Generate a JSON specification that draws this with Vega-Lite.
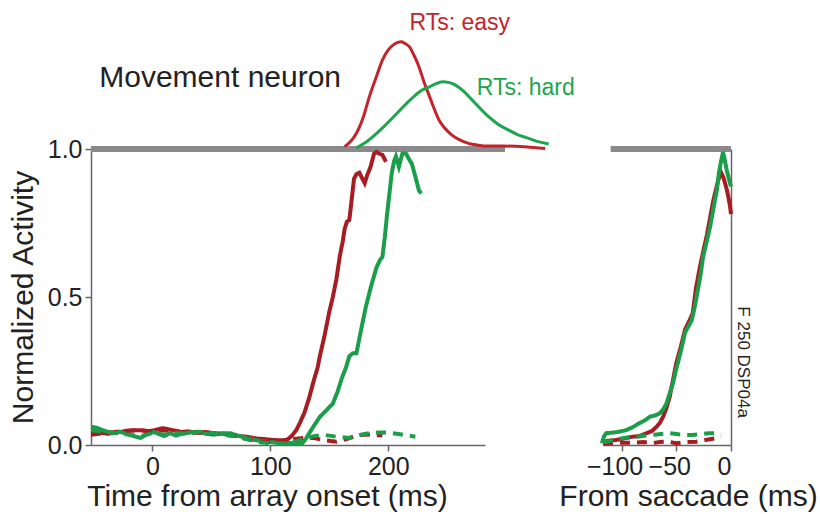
{
  "$schema": "https://vega.github.io/schema/vega-lite/v6.json",
  "background": "white",
  "padding": {"left": 8, "top": 12, "right": 5, "bottom": 5},
  "bounds": "flush",
  "spacing": 118,
  "config": {
    "view": {"stroke": null},
    "font": "Liberation Sans",
    "axis": {
      "grid": false,
      "domainColor": "#666666",
      "domainWidth": 1.5,
      "tickColor": "#666666",
      "tickWidth": 1.5,
      "tickSize": 6,
      "labelFont": "Liberation Sans",
      "labelFontSize": 25,
      "labelColor": "#222222",
      "labelPadding": 3,
      "titleFont": "Liberation Sans",
      "titleFontSize": 30,
      "titleFontWeight": "normal",
      "titleColor": "#222222"
    }
  },
  "datasets": {
    "arrayAligned": [
      {"t": -52, "act": 0.04, "cond": "easy", "type": "target"},
      {"t": -45, "act": 0.042, "cond": "easy", "type": "target"},
      {"t": -38, "act": 0.038, "cond": "easy", "type": "target"},
      {"t": -30, "act": 0.042, "cond": "easy", "type": "target"},
      {"t": -22, "act": 0.048, "cond": "easy", "type": "target"},
      {"t": -15, "act": 0.05, "cond": "easy", "type": "target"},
      {"t": -10, "act": 0.05, "cond": "easy", "type": "target"},
      {"t": -4, "act": 0.046, "cond": "easy", "type": "target"},
      {"t": 2, "act": 0.05, "cond": "easy", "type": "target"},
      {"t": 9, "act": 0.057, "cond": "easy", "type": "target"},
      {"t": 15, "act": 0.052, "cond": "easy", "type": "target"},
      {"t": 20, "act": 0.048, "cond": "easy", "type": "target"},
      {"t": 24, "act": 0.044, "cond": "easy", "type": "target"},
      {"t": 30, "act": 0.046, "cond": "easy", "type": "target"},
      {"t": 38, "act": 0.042, "cond": "easy", "type": "target"},
      {"t": 45, "act": 0.044, "cond": "easy", "type": "target"},
      {"t": 52, "act": 0.04, "cond": "easy", "type": "target"},
      {"t": 60, "act": 0.038, "cond": "easy", "type": "target"},
      {"t": 68, "act": 0.033, "cond": "easy", "type": "target"},
      {"t": 75, "act": 0.03, "cond": "easy", "type": "target"},
      {"t": 80, "act": 0.028, "cond": "easy", "type": "target"},
      {"t": 88, "act": 0.022, "cond": "easy", "type": "target"},
      {"t": 95, "act": 0.02, "cond": "easy", "type": "target"},
      {"t": 102, "act": 0.017, "cond": "easy", "type": "target"},
      {"t": 108, "act": 0.016, "cond": "easy", "type": "target"},
      {"t": 114, "act": 0.017, "cond": "easy", "type": "target"},
      {"t": 118, "act": 0.03, "cond": "easy", "type": "target"},
      {"t": 122, "act": 0.05, "cond": "easy", "type": "target"},
      {"t": 125, "act": 0.074, "cond": "easy", "type": "target"},
      {"t": 129, "act": 0.11, "cond": "easy", "type": "target"},
      {"t": 133, "act": 0.16, "cond": "easy", "type": "target"},
      {"t": 137, "act": 0.22, "cond": "easy", "type": "target"},
      {"t": 140, "act": 0.26, "cond": "easy", "type": "target"},
      {"t": 142, "act": 0.3, "cond": "easy", "type": "target"},
      {"t": 146, "act": 0.37, "cond": "easy", "type": "target"},
      {"t": 150, "act": 0.45, "cond": "easy", "type": "target"},
      {"t": 153, "act": 0.5, "cond": "easy", "type": "target"},
      {"t": 156, "act": 0.56, "cond": "easy", "type": "target"},
      {"t": 159, "act": 0.64, "cond": "easy", "type": "target"},
      {"t": 161.5, "act": 0.69, "cond": "easy", "type": "target"},
      {"t": 163, "act": 0.73, "cond": "easy", "type": "target"},
      {"t": 165, "act": 0.755, "cond": "easy", "type": "target"},
      {"t": 167, "act": 0.76, "cond": "easy", "type": "target"},
      {"t": 169, "act": 0.83, "cond": "easy", "type": "target"},
      {"t": 171, "act": 0.9, "cond": "easy", "type": "target"},
      {"t": 173, "act": 0.915, "cond": "easy", "type": "target"},
      {"t": 175.5, "act": 0.92, "cond": "easy", "type": "target"},
      {"t": 178, "act": 0.9, "cond": "easy", "type": "target"},
      {"t": 180, "act": 0.885, "cond": "easy", "type": "target"},
      {"t": 182, "act": 0.91, "cond": "easy", "type": "target"},
      {"t": 185, "act": 0.94, "cond": "easy", "type": "target"},
      {"t": 188, "act": 0.985, "cond": "easy", "type": "target"},
      {"t": 190, "act": 0.99, "cond": "easy", "type": "target"},
      {"t": 192, "act": 0.985, "cond": "easy", "type": "target"},
      {"t": 195, "act": 0.98, "cond": "easy", "type": "target"},
      {"t": 198, "act": 0.957, "cond": "easy", "type": "target"},

      {"t": -52, "act": 0.062, "cond": "hard", "type": "target"},
      {"t": -47, "act": 0.058, "cond": "hard", "type": "target"},
      {"t": -42, "act": 0.05, "cond": "hard", "type": "target"},
      {"t": -38, "act": 0.045, "cond": "hard", "type": "target"},
      {"t": -33, "act": 0.04, "cond": "hard", "type": "target"},
      {"t": -28, "act": 0.045, "cond": "hard", "type": "target"},
      {"t": -22, "act": 0.038, "cond": "hard", "type": "target"},
      {"t": -16, "act": 0.03, "cond": "hard", "type": "target"},
      {"t": -10, "act": 0.024, "cond": "hard", "type": "target"},
      {"t": -5, "act": 0.035, "cond": "hard", "type": "target"},
      {"t": 1, "act": 0.044, "cond": "hard", "type": "target"},
      {"t": 5, "act": 0.038, "cond": "hard", "type": "target"},
      {"t": 10, "act": 0.03, "cond": "hard", "type": "target"},
      {"t": 15, "act": 0.04, "cond": "hard", "type": "target"},
      {"t": 20, "act": 0.032, "cond": "hard", "type": "target"},
      {"t": 25, "act": 0.038, "cond": "hard", "type": "target"},
      {"t": 32, "act": 0.042, "cond": "hard", "type": "target"},
      {"t": 38, "act": 0.045, "cond": "hard", "type": "target"},
      {"t": 45, "act": 0.038, "cond": "hard", "type": "target"},
      {"t": 52, "act": 0.035, "cond": "hard", "type": "target"},
      {"t": 60, "act": 0.04, "cond": "hard", "type": "target"},
      {"t": 66, "act": 0.04, "cond": "hard", "type": "target"},
      {"t": 72, "act": 0.032, "cond": "hard", "type": "target"},
      {"t": 80, "act": 0.024, "cond": "hard", "type": "target"},
      {"t": 88, "act": 0.016, "cond": "hard", "type": "target"},
      {"t": 97, "act": 0.011, "cond": "hard", "type": "target"},
      {"t": 105, "act": 0.008, "cond": "hard", "type": "target"},
      {"t": 114, "act": 0.007, "cond": "hard", "type": "target"},
      {"t": 120, "act": 0.006, "cond": "hard", "type": "target"},
      {"t": 127, "act": 0.005, "cond": "hard", "type": "target"},
      {"t": 130, "act": 0.02, "cond": "hard", "type": "target"},
      {"t": 133, "act": 0.04, "cond": "hard", "type": "target"},
      {"t": 137, "act": 0.065, "cond": "hard", "type": "target"},
      {"t": 142, "act": 0.095, "cond": "hard", "type": "target"},
      {"t": 147, "act": 0.115, "cond": "hard", "type": "target"},
      {"t": 153, "act": 0.14, "cond": "hard", "type": "target"},
      {"t": 157, "act": 0.18, "cond": "hard", "type": "target"},
      {"t": 161, "act": 0.23, "cond": "hard", "type": "target"},
      {"t": 164, "act": 0.26, "cond": "hard", "type": "target"},
      {"t": 167, "act": 0.3, "cond": "hard", "type": "target"},
      {"t": 170, "act": 0.31, "cond": "hard", "type": "target"},
      {"t": 173, "act": 0.31, "cond": "hard", "type": "target"},
      {"t": 177, "act": 0.39, "cond": "hard", "type": "target"},
      {"t": 181, "act": 0.467, "cond": "hard", "type": "target"},
      {"t": 185, "act": 0.53, "cond": "hard", "type": "target"},
      {"t": 190, "act": 0.6, "cond": "hard", "type": "target"},
      {"t": 193, "act": 0.625, "cond": "hard", "type": "target"},
      {"t": 195, "act": 0.635, "cond": "hard", "type": "target"},
      {"t": 197, "act": 0.7, "cond": "hard", "type": "target"},
      {"t": 199, "act": 0.78, "cond": "hard", "type": "target"},
      {"t": 201, "act": 0.85, "cond": "hard", "type": "target"},
      {"t": 203, "act": 0.92, "cond": "hard", "type": "target"},
      {"t": 205, "act": 0.96, "cond": "hard", "type": "target"},
      {"t": 206.5, "act": 0.975, "cond": "hard", "type": "target"},
      {"t": 209, "act": 0.94, "cond": "hard", "type": "target"},
      {"t": 212, "act": 0.985, "cond": "hard", "type": "target"},
      {"t": 215, "act": 0.985, "cond": "hard", "type": "target"},
      {"t": 218, "act": 0.963, "cond": "hard", "type": "target"},
      {"t": 220, "act": 0.95, "cond": "hard", "type": "target"},
      {"t": 223, "act": 0.906, "cond": "hard", "type": "target"},
      {"t": 226, "act": 0.86, "cond": "hard", "type": "target"},
      {"t": 228, "act": 0.85, "cond": "hard", "type": "target"},

      {"t": -52, "act": 0.035, "cond": "easy", "type": "distractor"},
      {"t": -40, "act": 0.04, "cond": "easy", "type": "distractor"},
      {"t": -30, "act": 0.045, "cond": "easy", "type": "distractor"},
      {"t": -20, "act": 0.048, "cond": "easy", "type": "distractor"},
      {"t": -10, "act": 0.05, "cond": "easy", "type": "distractor"},
      {"t": 0, "act": 0.045, "cond": "easy", "type": "distractor"},
      {"t": 10, "act": 0.05, "cond": "easy", "type": "distractor"},
      {"t": 20, "act": 0.046, "cond": "easy", "type": "distractor"},
      {"t": 30, "act": 0.04, "cond": "easy", "type": "distractor"},
      {"t": 40, "act": 0.042, "cond": "easy", "type": "distractor"},
      {"t": 50, "act": 0.038, "cond": "easy", "type": "distractor"},
      {"t": 60, "act": 0.035, "cond": "easy", "type": "distractor"},
      {"t": 70, "act": 0.03, "cond": "easy", "type": "distractor"},
      {"t": 80, "act": 0.02, "cond": "easy", "type": "distractor"},
      {"t": 90, "act": 0.012, "cond": "easy", "type": "distractor"},
      {"t": 100, "act": 0.01, "cond": "easy", "type": "distractor"},
      {"t": 110, "act": 0.012, "cond": "easy", "type": "distractor"},
      {"t": 120, "act": 0.02, "cond": "easy", "type": "distractor"},
      {"t": 128, "act": 0.024, "cond": "easy", "type": "distractor"},
      {"t": 136, "act": 0.024, "cond": "easy", "type": "distractor"},
      {"t": 146, "act": 0.016, "cond": "easy", "type": "distractor"},
      {"t": 156, "act": 0.011, "cond": "easy", "type": "distractor"},
      {"t": 166, "act": 0.022, "cond": "easy", "type": "distractor"},
      {"t": 176, "act": 0.034, "cond": "easy", "type": "distractor"},
      {"t": 186, "act": 0.036, "cond": "easy", "type": "distractor"},
      {"t": 195, "act": 0.032, "cond": "easy", "type": "distractor"},

      {"t": -52, "act": 0.05, "cond": "hard", "type": "distractor"},
      {"t": -40, "act": 0.045, "cond": "hard", "type": "distractor"},
      {"t": -30, "act": 0.04, "cond": "hard", "type": "distractor"},
      {"t": -20, "act": 0.035, "cond": "hard", "type": "distractor"},
      {"t": -10, "act": 0.03, "cond": "hard", "type": "distractor"},
      {"t": 0, "act": 0.04, "cond": "hard", "type": "distractor"},
      {"t": 10, "act": 0.035, "cond": "hard", "type": "distractor"},
      {"t": 20, "act": 0.04, "cond": "hard", "type": "distractor"},
      {"t": 30, "act": 0.038, "cond": "hard", "type": "distractor"},
      {"t": 40, "act": 0.045, "cond": "hard", "type": "distractor"},
      {"t": 50, "act": 0.04, "cond": "hard", "type": "distractor"},
      {"t": 60, "act": 0.035, "cond": "hard", "type": "distractor"},
      {"t": 70, "act": 0.03, "cond": "hard", "type": "distractor"},
      {"t": 80, "act": 0.02, "cond": "hard", "type": "distractor"},
      {"t": 90, "act": 0.01, "cond": "hard", "type": "distractor"},
      {"t": 100, "act": 0.005, "cond": "hard", "type": "distractor"},
      {"t": 110, "act": 0.005, "cond": "hard", "type": "distractor"},
      {"t": 120, "act": 0.01, "cond": "hard", "type": "distractor"},
      {"t": 128, "act": 0.02, "cond": "hard", "type": "distractor"},
      {"t": 137, "act": 0.03, "cond": "hard", "type": "distractor"},
      {"t": 146, "act": 0.034, "cond": "hard", "type": "distractor"},
      {"t": 156, "act": 0.028, "cond": "hard", "type": "distractor"},
      {"t": 167, "act": 0.024, "cond": "hard", "type": "distractor"},
      {"t": 176, "act": 0.034, "cond": "hard", "type": "distractor"},
      {"t": 184, "act": 0.04, "cond": "hard", "type": "distractor"},
      {"t": 192, "act": 0.042, "cond": "hard", "type": "distractor"},
      {"t": 201, "act": 0.042, "cond": "hard", "type": "distractor"},
      {"t": 210, "act": 0.036, "cond": "hard", "type": "distractor"},
      {"t": 223, "act": 0.028, "cond": "hard", "type": "distractor"}
    ],
    "rtDist": [
      {"t": 163, "act": 1.008, "cond": "easy"},
      {"t": 168, "act": 1.025, "cond": "easy"},
      {"t": 173, "act": 1.053, "cond": "easy"},
      {"t": 179, "act": 1.11, "cond": "easy"},
      {"t": 184, "act": 1.177, "cond": "easy"},
      {"t": 190, "act": 1.245, "cond": "easy"},
      {"t": 195, "act": 1.3, "cond": "easy"},
      {"t": 200, "act": 1.335, "cond": "easy"},
      {"t": 204, "act": 1.351, "cond": "easy"},
      {"t": 208, "act": 1.36, "cond": "easy"},
      {"t": 211, "act": 1.362, "cond": "easy"},
      {"t": 214, "act": 1.357, "cond": "easy"},
      {"t": 218, "act": 1.345, "cond": "easy"},
      {"t": 222, "act": 1.315, "cond": "easy"},
      {"t": 226, "act": 1.278, "cond": "easy"},
      {"t": 230, "act": 1.23, "cond": "easy"},
      {"t": 235, "act": 1.177, "cond": "easy"},
      {"t": 239, "act": 1.135, "cond": "easy"},
      {"t": 243, "act": 1.098, "cond": "easy"},
      {"t": 248, "act": 1.07, "cond": "easy"},
      {"t": 254, "act": 1.047, "cond": "easy"},
      {"t": 261, "act": 1.03, "cond": "easy"},
      {"t": 268, "act": 1.019, "cond": "easy"},
      {"t": 276, "act": 1.013, "cond": "easy"},
      {"t": 285, "act": 1.01, "cond": "easy"},
      {"t": 297, "act": 1.01, "cond": "easy"},
      {"t": 308, "act": 1.009, "cond": "easy"},
      {"t": 320, "act": 1.006, "cond": "easy"},
      {"t": 333, "act": 1.002, "cond": "easy"},

      {"t": 173, "act": 1.004, "cond": "hard"},
      {"t": 180, "act": 1.02, "cond": "hard"},
      {"t": 187, "act": 1.042, "cond": "hard"},
      {"t": 196, "act": 1.075, "cond": "hard"},
      {"t": 206, "act": 1.115, "cond": "hard"},
      {"t": 215, "act": 1.152, "cond": "hard"},
      {"t": 223, "act": 1.182, "cond": "hard"},
      {"t": 229, "act": 1.2, "cond": "hard"},
      {"t": 235, "act": 1.21, "cond": "hard"},
      {"t": 240, "act": 1.22, "cond": "hard"},
      {"t": 246, "act": 1.227, "cond": "hard"},
      {"t": 251, "act": 1.225, "cond": "hard"},
      {"t": 257, "act": 1.216, "cond": "hard"},
      {"t": 264, "act": 1.195, "cond": "hard"},
      {"t": 271, "act": 1.166, "cond": "hard"},
      {"t": 278, "act": 1.137, "cond": "hard"},
      {"t": 285, "act": 1.109, "cond": "hard"},
      {"t": 293, "act": 1.084, "cond": "hard"},
      {"t": 302, "act": 1.064, "cond": "hard"},
      {"t": 310, "act": 1.048, "cond": "hard"},
      {"t": 319, "act": 1.036, "cond": "hard"},
      {"t": 327, "act": 1.025, "cond": "hard"},
      {"t": 336, "act": 1.017, "cond": "hard"}
    ],
    "saccadeAligned": [
      {"t": -117, "act": 0.011, "cond": "easy", "type": "target"},
      {"t": -112, "act": 0.014, "cond": "easy", "type": "target"},
      {"t": -105, "act": 0.017, "cond": "easy", "type": "target"},
      {"t": -98, "act": 0.022, "cond": "easy", "type": "target"},
      {"t": -90, "act": 0.028, "cond": "easy", "type": "target"},
      {"t": -84, "act": 0.03, "cond": "easy", "type": "target"},
      {"t": -77, "act": 0.04, "cond": "easy", "type": "target"},
      {"t": -72, "act": 0.048, "cond": "easy", "type": "target"},
      {"t": -68, "act": 0.062, "cond": "easy", "type": "target"},
      {"t": -65, "act": 0.075, "cond": "easy", "type": "target"},
      {"t": -62, "act": 0.096, "cond": "easy", "type": "target"},
      {"t": -59, "act": 0.125, "cond": "easy", "type": "target"},
      {"t": -56, "act": 0.163, "cond": "easy", "type": "target"},
      {"t": -53, "act": 0.22, "cond": "easy", "type": "target"},
      {"t": -50, "act": 0.277, "cond": "easy", "type": "target"},
      {"t": -46, "act": 0.33, "cond": "easy", "type": "target"},
      {"t": -42, "act": 0.39, "cond": "easy", "type": "target"},
      {"t": -38, "act": 0.42, "cond": "easy", "type": "target"},
      {"t": -35, "act": 0.445, "cond": "easy", "type": "target"},
      {"t": -32, "act": 0.53, "cond": "easy", "type": "target"},
      {"t": -28.5, "act": 0.6, "cond": "easy", "type": "target"},
      {"t": -25, "act": 0.66, "cond": "easy", "type": "target"},
      {"t": -22, "act": 0.71, "cond": "easy", "type": "target"},
      {"t": -19, "act": 0.77, "cond": "easy", "type": "target"},
      {"t": -16.5, "act": 0.82, "cond": "easy", "type": "target"},
      {"t": -14, "act": 0.86, "cond": "easy", "type": "target"},
      {"t": -11.6, "act": 0.895, "cond": "easy", "type": "target"},
      {"t": -9, "act": 0.92, "cond": "easy", "type": "target"},
      {"t": -7, "act": 0.905, "cond": "easy", "type": "target"},
      {"t": -5.5, "act": 0.885, "cond": "easy", "type": "target"},
      {"t": -4, "act": 0.865, "cond": "easy", "type": "target"},
      {"t": -2.5, "act": 0.84, "cond": "easy", "type": "target"},
      {"t": -1, "act": 0.81, "cond": "easy", "type": "target"},
      {"t": 0, "act": 0.78, "cond": "easy", "type": "target"},

      {"t": -118, "act": 0.006, "cond": "hard", "type": "target"},
      {"t": -116, "act": 0.03, "cond": "hard", "type": "target"},
      {"t": -114, "act": 0.04, "cond": "hard", "type": "target"},
      {"t": -108, "act": 0.042, "cond": "hard", "type": "target"},
      {"t": -102, "act": 0.045, "cond": "hard", "type": "target"},
      {"t": -96, "act": 0.05, "cond": "hard", "type": "target"},
      {"t": -90, "act": 0.06, "cond": "hard", "type": "target"},
      {"t": -83.5, "act": 0.074, "cond": "hard", "type": "target"},
      {"t": -78, "act": 0.085, "cond": "hard", "type": "target"},
      {"t": -74, "act": 0.096, "cond": "hard", "type": "target"},
      {"t": -69, "act": 0.1, "cond": "hard", "type": "target"},
      {"t": -65, "act": 0.108, "cond": "hard", "type": "target"},
      {"t": -62, "act": 0.12, "cond": "hard", "type": "target"},
      {"t": -59, "act": 0.14, "cond": "hard", "type": "target"},
      {"t": -56, "act": 0.175, "cond": "hard", "type": "target"},
      {"t": -53, "act": 0.21, "cond": "hard", "type": "target"},
      {"t": -50.5, "act": 0.25, "cond": "hard", "type": "target"},
      {"t": -48.6, "act": 0.277, "cond": "hard", "type": "target"},
      {"t": -45, "act": 0.33, "cond": "hard", "type": "target"},
      {"t": -42, "act": 0.38, "cond": "hard", "type": "target"},
      {"t": -39, "act": 0.4, "cond": "hard", "type": "target"},
      {"t": -36, "act": 0.42, "cond": "hard", "type": "target"},
      {"t": -33.5, "act": 0.46, "cond": "hard", "type": "target"},
      {"t": -31.5, "act": 0.5, "cond": "hard", "type": "target"},
      {"t": -28, "act": 0.57, "cond": "hard", "type": "target"},
      {"t": -25.5, "act": 0.636, "cond": "hard", "type": "target"},
      {"t": -22, "act": 0.69, "cond": "hard", "type": "target"},
      {"t": -19, "act": 0.74, "cond": "hard", "type": "target"},
      {"t": -16, "act": 0.8, "cond": "hard", "type": "target"},
      {"t": -13, "act": 0.86, "cond": "hard", "type": "target"},
      {"t": -11, "act": 0.92, "cond": "hard", "type": "target"},
      {"t": -9, "act": 0.96, "cond": "hard", "type": "target"},
      {"t": -7.3, "act": 0.99, "cond": "hard", "type": "target"},
      {"t": -5.5, "act": 0.96, "cond": "hard", "type": "target"},
      {"t": -4, "act": 0.93, "cond": "hard", "type": "target"},
      {"t": -2, "act": 0.9, "cond": "hard", "type": "target"},
      {"t": 0, "act": 0.873, "cond": "hard", "type": "target"},

      {"t": -117, "act": 0.004, "cond": "easy", "type": "distractor"},
      {"t": -110, "act": 0.006, "cond": "easy", "type": "distractor"},
      {"t": -100, "act": 0.008, "cond": "easy", "type": "distractor"},
      {"t": -90, "act": 0.008, "cond": "easy", "type": "distractor"},
      {"t": -80, "act": 0.01, "cond": "easy", "type": "distractor"},
      {"t": -73, "act": 0.006, "cond": "easy", "type": "distractor"},
      {"t": -65, "act": 0.01, "cond": "easy", "type": "distractor"},
      {"t": -58, "act": 0.012, "cond": "easy", "type": "distractor"},
      {"t": -50, "act": 0.006, "cond": "easy", "type": "distractor"},
      {"t": -42, "act": 0.01, "cond": "easy", "type": "distractor"},
      {"t": -32, "act": 0.011, "cond": "easy", "type": "distractor"},
      {"t": -22, "act": 0.018, "cond": "easy", "type": "distractor"},
      {"t": -15, "act": 0.022, "cond": "easy", "type": "distractor"},
      {"t": -9, "act": 0.028, "cond": "easy", "type": "distractor"},

      {"t": -117, "act": 0.01, "cond": "hard", "type": "distractor"},
      {"t": -112, "act": 0.012, "cond": "hard", "type": "distractor"},
      {"t": -105, "act": 0.02, "cond": "hard", "type": "distractor"},
      {"t": -95, "act": 0.025, "cond": "hard", "type": "distractor"},
      {"t": -86, "act": 0.028, "cond": "hard", "type": "distractor"},
      {"t": -78, "act": 0.032, "cond": "hard", "type": "distractor"},
      {"t": -70, "act": 0.035, "cond": "hard", "type": "distractor"},
      {"t": -62, "act": 0.038, "cond": "hard", "type": "distractor"},
      {"t": -56, "act": 0.04, "cond": "hard", "type": "distractor"},
      {"t": -48, "act": 0.036, "cond": "hard", "type": "distractor"},
      {"t": -40, "act": 0.034, "cond": "hard", "type": "distractor"},
      {"t": -35, "act": 0.034, "cond": "hard", "type": "distractor"},
      {"t": -28, "act": 0.036, "cond": "hard", "type": "distractor"},
      {"t": -20, "act": 0.04, "cond": "hard", "type": "distractor"},
      {"t": -13, "act": 0.04, "cond": "hard", "type": "distractor"},
      {"t": -9, "act": 0.038, "cond": "hard", "type": "distractor"}
    ]
  },
  "hconcat": [
    {
      "width": 394,
      "height": 296,
      "layer": [
        {
          "data": {"values": [{"t0": -52, "t1": 299, "act": 1}]},
          "mark": {"type": "rule", "color": "#8a8a8c", "strokeWidth": 6},
          "encoding": {
            "x": {"field": "t0", "type": "quantitative"},
            "x2": {"field": "t1"},
            "y": {"field": "act", "type": "quantitative"}
          }
        },
        {
          "data": {"name": "rtDist"},
          "mark": {"type": "line", "strokeWidth": 3, "interpolate": "monotone"},
          "encoding": {
            "x": {"field": "t", "type": "quantitative"},
            "y": {"field": "act", "type": "quantitative"},
            "detail": {"field": "cond"},
            "color": {"field": "cond", "type": "nominal", "legend": null,
              "scale": {"domain": ["easy", "hard"], "range": ["#c3242c", "#1ca64c"]}}
          }
        },
        {
          "data": {"name": "arrayAligned"},
          "mark": {"type": "line", "strokeWidth": 4},
          "encoding": {
            "x": {
              "field": "t", "type": "quantitative",
              "scale": {"domain": [-52, 282], "nice": false, "zero": false},
              "axis": {"values": [0, 100, 200], "title": "Time from array onset (ms)", "titleX": 176, "titlePadding": 2}
            },
            "y": {
              "field": "act", "type": "quantitative",
              "scale": {"domain": [0, 1], "nice": false},
              "axis": {"values": [0, 0.5, 1], "format": ".1f", "title": "Normalized Activity", "titlePadding": 9}
            },
            "detail": {"field": "type"},
            "color": {"field": "cond", "type": "nominal", "legend": null,
              "scale": {"domain": ["easy", "hard"], "range": ["#a51c22", "#1a9e4a"]}},
            "strokeDash": {"field": "type", "type": "nominal", "legend": null,
              "scale": {"domain": ["target", "distractor"], "range": [[1, 0], [10, 7]]}}
          }
        },
        {
          "data": {"values": [{"label": "Movement neuron", "t": -45, "act": 1.208}]},
          "mark": {"type": "text", "align": "left", "baseline": "alphabetic", "fontSize": 30, "color": "#222222"},
          "encoding": {
            "x": {"field": "t", "type": "quantitative"},
            "y": {"field": "act", "type": "quantitative"},
            "text": {"field": "label"}
          }
        },
        {
          "data": {"values": [
            {"label": "RTs: easy", "t": 218, "act": 1.402, "cond": "easy"},
            {"label": "RTs: hard", "t": 275, "act": 1.182, "cond": "hard"}
          ]},
          "mark": {"type": "text", "align": "left", "baseline": "alphabetic", "fontSize": 23},
          "encoding": {
            "x": {"field": "t", "type": "quantitative"},
            "y": {"field": "act", "type": "quantitative"},
            "text": {"field": "label"},
            "color": {"field": "cond", "type": "nominal", "legend": null,
              "scale": {"domain": ["easy", "hard"], "range": ["#c3242c", "#1ca64c"]}}
          }
        }
      ],
      "resolve": {"scale": {"color": "independent"}}
    },
    {
      "width": 128,
      "height": 296,
      "layer": [
        {
          "data": {"values": [{"t0": -110, "t1": 0, "act": 1}]},
          "mark": {"type": "rule", "color": "#8a8a8c", "strokeWidth": 6},
          "encoding": {
            "x": {"field": "t0", "type": "quantitative"},
            "x2": {"field": "t1"},
            "y": {"field": "act", "type": "quantitative"}
          }
        },
        {
          "data": {"name": "saccadeAligned"},
          "mark": {"type": "line", "strokeWidth": 4},
          "encoding": {
            "x": {
              "field": "t", "type": "quantitative",
              "scale": {"domain": [-117, 0], "nice": false, "zero": false},
              "axis": {
                "values": [-100, -50, 0],
                "title": "From saccade (ms)", "titleX": 85, "titlePadding": 2,
                "labelOffset": {"condition": {"test": "datum.value < 0", "value": -7}, "value": 0}
              }
            },
            "y": {
              "field": "act", "type": "quantitative",
              "scale": {"domain": [0, 1], "nice": false},
              "axis": {"orient": "right", "labels": false, "ticks": false, "title": null}
            },
            "detail": {"field": "type"},
            "color": {"field": "cond", "type": "nominal", "legend": null,
              "scale": {"domain": ["easy", "hard"], "range": ["#a51c22", "#1a9e4a"]}},
            "strokeDash": {"field": "type", "type": "nominal", "legend": null,
              "scale": {"domain": ["target", "distractor"], "range": [[1, 0], [10, 7]]}}
          }
        },
        {
          "data": {"values": [{"label": "F 250 DSP04a", "t": 0, "act": 0.28}]},
          "mark": {"type": "text", "angle": 90, "align": "center", "baseline": "middle", "dy": -12, "fontSize": 17, "color": "#222222"},
          "encoding": {
            "x": {"field": "t", "type": "quantitative"},
            "y": {"field": "act", "type": "quantitative"},
            "text": {"field": "label"}
          }
        }
      ]
    }
  ]
}
